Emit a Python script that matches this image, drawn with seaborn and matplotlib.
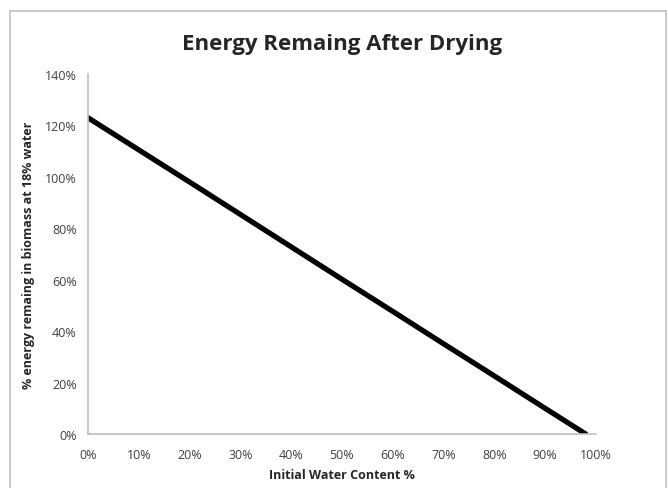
import numpy as np
import pandas as pd
import seaborn as sns
import matplotlib.pyplot as plt
from matplotlib.lines import Line2D
from matplotlib.ticker import PercentFormatter

#### data ####
water_content = [0.0, 0.1, 0.2, 0.3, 0.4, 0.5, 0.6, 0.7, 0.8, 0.9, 0.98]
energy_left = [1.23, 1.105, 0.98, 0.854, 0.728, 0.602, 0.477, 0.351, 0.226, 0.10, 0.0]

df = pd.DataFrame({"water": water_content, "energy": energy_left})

sns.set_style("white")
plt.rcParams["font.family"] = ["Open Sans", "DejaVu Sans"]

fig = plt.figure(figsize=(6.68, 4.89), dpi=100)
ax = fig.add_axes([0.1317, 0.1104, 0.7603, 0.7362])

sns.lineplot(data=df, x="water", y="energy", color="black", linewidth=3.8, ax=ax)

ax.set_xlim(0, 1)
ax.set_ylim(0, 1.4)
ax.set_xticks(np.arange(0, 1.01, 0.1))
ax.set_yticks(np.arange(0, 1.41, 0.2))
ax.xaxis.set_major_formatter(PercentFormatter(1.0, decimals=0))
ax.yaxis.set_major_formatter(PercentFormatter(1.0, decimals=0))
ax.tick_params(axis="both", length=0, labelsize=9, labelcolor="#404040")
ax.tick_params(axis="x", pad=10)
ax.tick_params(axis="y", pad=8)

for s in ["top", "right"]:
    ax.spines[s].set_visible(False)
for s in ["left", "bottom"]:
    ax.spines[s].set_color("#bfbfbf")
    ax.spines[s].set_linewidth(1.2)

ax.set_xlabel("Initial Water Content %", fontsize=9, fontweight="bold", labelpad=5)
ax.set_ylabel("% energy remaing in biomass at 18% water", fontsize=9, fontweight="bold", labelpad=7)
fig.suptitle("Energy Remaing After Drying", fontsize=16, fontweight="bold", x=0.512, y=0.93)

# outer chart frame
frame = dict(color="#bfbfbf", linewidth=1.2, transform=fig.transFigure)
fig.add_artist(Line2D([0.015, 0.015], [0.0, 0.975], **frame))
fig.add_artist(Line2D([0.015, 0.997], [0.975, 0.975], **frame))
fig.add_artist(Line2D([0.997, 0.997], [0.0, 0.975], **frame))

plt.savefig("out.png", dpi=100)
